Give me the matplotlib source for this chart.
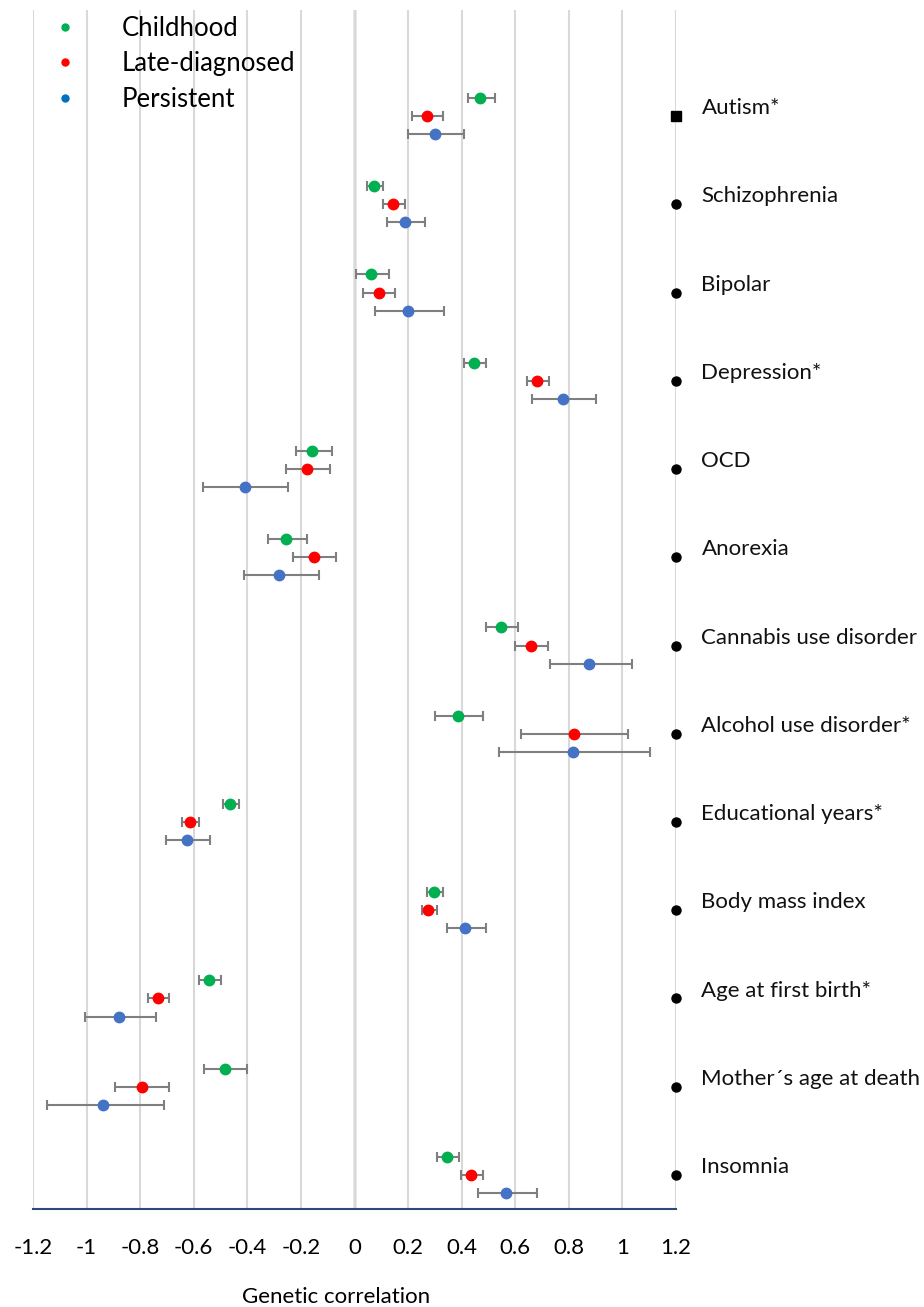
import numpy as np
import matplotlib.pyplot as plt
from matplotlib.lines import Line2D

plt.rcParams['font.family'] = ['Lato', 'DejaVu Sans']

categories = ['Autism*', 'Schizophrenia', 'Bipolar', 'Depression*', 'OCD', 'Anorexia',
              'Cannabis use disorder', 'Alcohol use disorder*', 'Educational years*',
              'Body mass index', 'Age at first birth*', 'Mother\u00b4s age at death', 'Insomnia']

# genetic correlation with lower / upper error limits
child_r  = [0.470, 0.074, 0.063, 0.445, -0.157, -0.254, 0.547, 0.386, -0.464, 0.296, -0.543, -0.484, 0.346]
child_lo = [0.423, 0.046, 0.004, 0.408, -0.220, -0.321, 0.489, 0.299, -0.490, 0.272, -0.582, -0.562, 0.307]
child_hi = [0.526, 0.108, 0.128, 0.489, -0.083, -0.179, 0.610, 0.480, -0.430, 0.330, -0.500, -0.400, 0.390]

late_r  = [0.270, 0.143, 0.090, 0.682, -0.178, -0.152, 0.657, 0.819, -0.614, 0.275, -0.735, -0.795, 0.435]
late_lo = [0.213, 0.106, 0.031, 0.644, -0.255, -0.229, 0.600, 0.621, -0.642, 0.253, -0.772, -0.893, 0.398]
late_hi = [0.330, 0.187, 0.153, 0.725, -0.092, -0.070, 0.722, 1.022, -0.580, 0.309, -0.693, -0.693, 0.478]

pers_r  = [0.299, 0.187, 0.198, 0.780, -0.410, -0.281, 0.876, 0.816, -0.627, 0.413, -0.879, -0.939, 0.565]
pers_lo = [0.201, 0.121, 0.076, 0.664, -0.567, -0.412, 0.730, 0.539, -0.703, 0.347, -1.005, -1.149, 0.460]
pers_hi = [0.407, 0.264, 0.334, 0.902, -0.250, -0.134, 1.034, 1.104, -0.541, 0.490, -0.741, -0.711, 0.680]

xticks = [-1.2, -1.0, -0.8, -0.6, -0.4, -0.2, 0, 0.2, 0.4, 0.6, 0.8, 1.0, 1.2]
xticklabels = ['-1.2', '-1', '-0.8', '-0.6', '-0.4', '-0.2', '0', '0.2', '0.4', '0.6', '0.8', '1', '1.2']

W, H = 924, 1307
fig = plt.figure(figsize=(W / 100, H / 100), dpi=100)
ax = fig.add_axes([33 / W, 1 - 1209 / H, (676 - 33) / W, (1209 - 10) / H])

n = len(categories)
ypos = np.arange(n, 0, -1)
off = 0.205

groups = [
    (child_r, child_lo, child_hi, '#00b050', off),
    (late_r, late_lo, late_hi, '#ff0000', 0),
    (pers_r, pers_lo, pers_hi, '#4472c4', -off),
]
for r, lo, hi, col, dy in groups:
    r = np.array(r)
    xerr = [r - np.array(lo), np.array(hi) - r]
    ax.errorbar(r, ypos + dy, xerr=xerr, fmt='o', color=col, ms=7.5,
                ecolor='#7f7f7f', elinewidth=1.5, capsize=3.5, capthick=1.5, zorder=3)

# category markers on the right edge
for i, name in enumerate(categories):
    mk = 's' if i == 0 else 'o'
    ax.plot(1.2, ypos[i], marker=mk, color='black', ms=6.5, clip_on=False, zorder=4)
    ax.text(1.295, ypos[i] + 0.09, name, fontsize=16, va='center', ha='left',
            color='#111111', clip_on=False)

ax.set_xlim(-1.2, 1.2)
ax.set_ylim(1 - 34 / 88.15, 13 + 106 / 88.15)
ax.set_xticks(xticks)
ax.set_xticklabels(xticklabels)
ax.set_yticks([])
ax.tick_params(axis='x', length=0, pad=21, labelsize=16)
ax.grid(axis='x', color='#d9d9d9', lw=1.5, zorder=0)
ax.axvline(0, color='#333333', lw=1.6, zorder=1)

for s in ['top', 'left', 'right']:
    ax.spines[s].set_visible(False)
ax.spines['bottom'].set_color('#2f4a7a')
ax.spines['bottom'].set_linewidth(1.5)

fig.text(336 / W, 1 - 1297 / H, 'Genetic correlation', ha='center', va='center', fontsize=16)

handles = [Line2D([], [], marker='o', ls='', color='#00b050', ms=5),
           Line2D([], [], marker='o', ls='', color='#ff0000', ms=5),
           Line2D([], [], marker='o', ls='', color='#0070c0', ms=5)]
fig.legend(handles, ['Childhood', 'Late-diagnosed', 'Persistent'], loc='upper left',
           bbox_to_anchor=(52 / W, 1 - 16 / H), frameon=False, fontsize=18.5,
           handlelength=1, handletextpad=1.7, labelspacing=0.4, borderaxespad=0, borderpad=0)

plt.savefig('out.png', dpi=100)
